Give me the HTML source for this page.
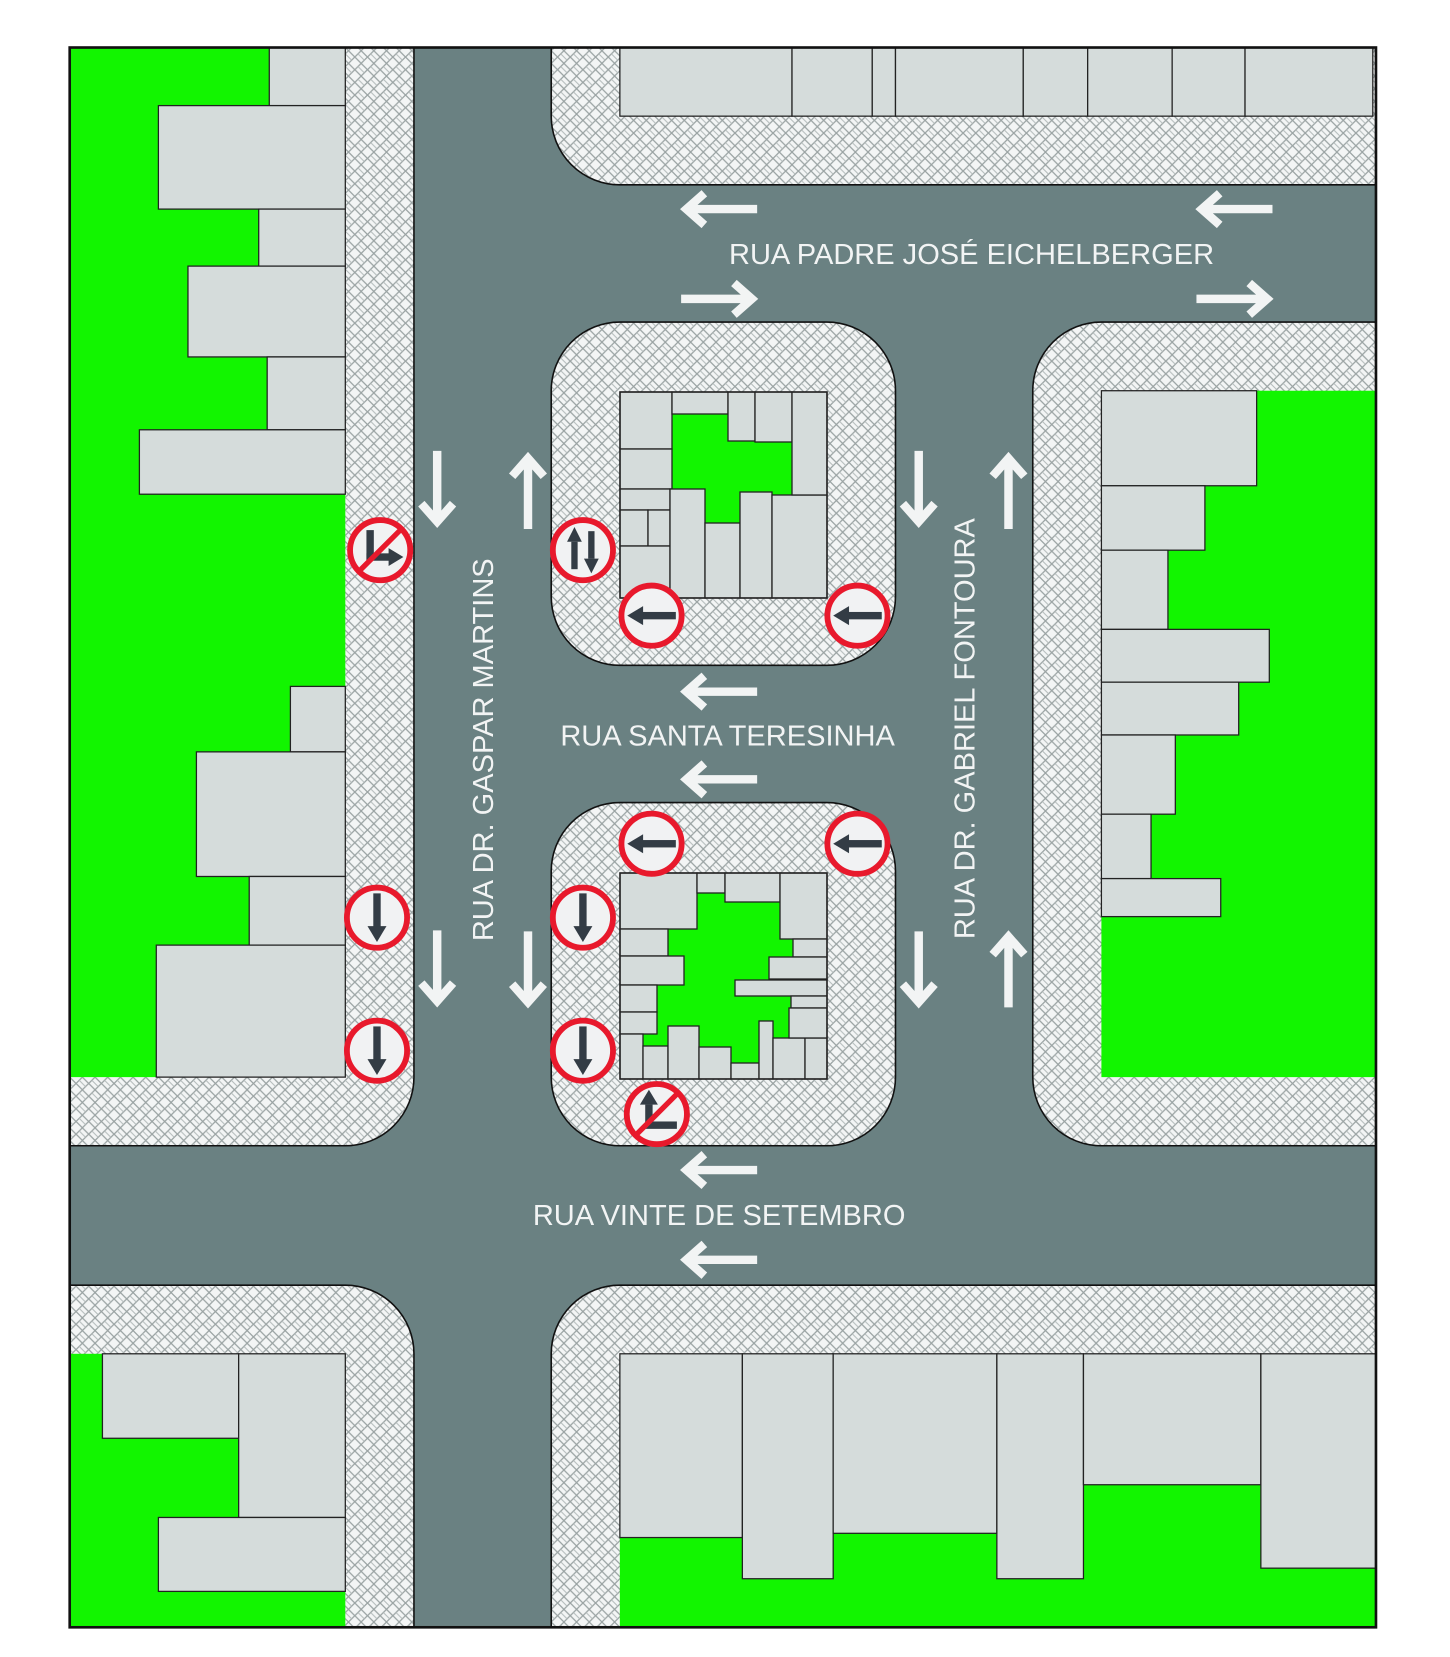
<!DOCTYPE html>
<html><head><meta charset="utf-8"><style>
html,body{margin:0;padding:0;background:#fff;}
svg{display:block;}
text{font-family:"Liberation Sans",sans-serif;fill:#f2f4f4;}
</style></head><body>
<svg width="1450" height="1657" viewBox="0 0 1450 1657" xmlns="http://www.w3.org/2000/svg">
<defs>
<pattern id="hb" width="12" height="12" patternUnits="userSpaceOnUse">
<rect width="12" height="12" fill="#f3f5f5"/>
<path d="M0,6 L6,0 M6,12 L12,6 M6,0 L12,6 M0,6 L6,12" stroke="#9aa3a3" stroke-width="1.2" fill="none"/>
<path d="M3,3 L9,9" stroke="#b4bbbb" stroke-width="1" fill="none"/>
</pattern>
<g id="al"><path d="M36,0 H-30 M-14,-15 L-31,0 L-14,15" stroke="#f2f4f4" stroke-width="8" fill="none"/></g>
<g id="sgnL"><circle r="28.5" fill="#f1f2f3" stroke="#e8192c" stroke-width="5.5"/><rect x="-9" y="-3.5" width="32" height="7" fill="#333c45"/><path d="M-23,0 L-8,-9 L-8,9Z" fill="#333c45"/></g>
<g id="sgnD"><circle r="28.5" fill="#f1f2f3" stroke="#e8192c" stroke-width="5.5"/><rect x="-3.5" y="-23" width="7" height="32" fill="#333c45"/><path d="M0,23 L-9,8 L9,8Z" fill="#333c45"/></g>
</defs>
<rect width="1450" height="1657" fill="#fff"/>
<g transform="scale(1.056)">
<!-- base road -->
<rect x="66" y="45" width="1237" height="1496" fill="#6a8182"/>
<!-- sidewalks -->
<g fill="url(#hb)" stroke="#111" stroke-width="1.5">
<path d="M66,45 H392 V1020 A65,65 0 0 1 327,1085 H66 Z"/>
<path d="M522,45 H1303 V175 H587 A65,65 0 0 1 522,110 Z"/>
<rect x="522" y="305" width="326" height="325" rx="65"/>
<rect x="522" y="760" width="326" height="325" rx="65"/>
<path d="M1043,305 H1303 V1085 H1043 A65,65 0 0 1 978,1020 V370 A65,65 0 0 1 1043,305 Z"/>
<path d="M66,1217 H327 A65,65 0 0 1 392,1282 V1541 H66 Z"/>
<path d="M587,1217 H1303 V1541 H522 V1282 A65,65 0 0 1 587,1217 Z"/>
</g>
<!-- green inner areas -->
<g fill="#12f500">
<rect x="66" y="45" width="261" height="975"/>
<rect x="1043" y="370" width="260" height="650"/>
<rect x="66" y="1282" width="261" height="259"/>
<rect x="587" y="1282" width="716" height="259"/>
</g>
<!-- buildings -->
<g fill="#d5dcdb" stroke="#222" stroke-width="1.2">
<rect x="255" y="45" width="72" height="55"/>
<rect x="150" y="100" width="177" height="98"/>
<rect x="245" y="198" width="82" height="54"/>
<rect x="178" y="252" width="149" height="86"/>
<rect x="253" y="338" width="74" height="69"/>
<rect x="132" y="407" width="195" height="61"/>
<rect x="275" y="650" width="52" height="62"/>
<rect x="186" y="712" width="141" height="118"/>
<rect x="236" y="830" width="91" height="65"/>
<rect x="148" y="895" width="179" height="125"/>
<rect x="587" y="45" width="163" height="65"/>
<rect x="750" y="45" width="76" height="65"/>
<rect x="826" y="45" width="22" height="65"/>
<rect x="848" y="45" width="121" height="65"/>
<rect x="969" y="45" width="61" height="65"/>
<rect x="1030" y="45" width="80" height="65"/>
<rect x="1110" y="45" width="69" height="65"/>
<rect x="1179" y="45" width="121" height="65"/>
<rect x="1043" y="370" width="147" height="90"/>
<rect x="1043" y="460" width="98" height="61"/>
<rect x="1043" y="521" width="63" height="75"/>
<rect x="1043" y="596" width="159" height="50"/>
<rect x="1043" y="646" width="130" height="50"/>
<rect x="1043" y="696" width="70" height="75"/>
<rect x="1043" y="771" width="47" height="61"/>
<rect x="1043" y="832" width="113" height="36"/>
<rect x="97" y="1282" width="129" height="80"/>
<rect x="226" y="1282" width="101" height="155"/>
<rect x="150" y="1437" width="177" height="70"/>
<rect x="587" y="1282" width="116" height="174"/>
<rect x="703" y="1282" width="86" height="213"/>
<rect x="789" y="1282" width="155" height="170"/>
<rect x="944" y="1282" width="82" height="213"/>
<rect x="1026" y="1282" width="168" height="124"/>
<rect x="1194" y="1282" width="109" height="203"/>
</g>
<!-- frame -->
<rect x="66" y="45" width="1237" height="1496" fill="none" stroke="#111" stroke-width="2.5"/>
</g>
<!-- island buildings (actual coords) -->
<rect x="620" y="392" width="207" height="206" fill="#12f500"/>
<g fill="#d5dcdb" stroke="#222" stroke-width="1.3">
<rect x="620" y="392" width="52" height="57"/>
<rect x="620" y="449" width="52" height="40"/>
<rect x="620" y="489" width="50" height="21"/>
<rect x="620" y="510" width="28" height="36"/>
<rect x="648" y="510" width="22" height="36"/>
<rect x="620" y="546" width="50" height="52"/>
<rect x="670" y="489" width="35" height="109"/>
<rect x="705" y="523" width="35" height="75"/>
<rect x="740" y="492" width="32" height="106"/>
<rect x="772" y="495" width="55" height="103"/>
<rect x="672" y="392" width="56" height="22"/>
<rect x="728" y="392" width="27" height="49"/>
<rect x="755" y="392" width="37" height="50"/>
<rect x="792" y="392" width="35" height="103"/>
</g>
<rect x="620" y="392" width="207" height="206" fill="none" stroke="#222" stroke-width="1.5"/>
<rect x="620" y="873" width="207" height="206" fill="#12f500"/>
<g fill="#d5dcdb" stroke="#222" stroke-width="1.3">
<rect x="620" y="873" width="77" height="56"/>
<rect x="697" y="873" width="28" height="20"/>
<rect x="725" y="873" width="55" height="29"/>
<rect x="780" y="873" width="47" height="66"/>
<rect x="620" y="929" width="48" height="27"/>
<rect x="620" y="956" width="64" height="29"/>
<rect x="620" y="985" width="37" height="27"/>
<rect x="620" y="1012" width="37" height="22"/>
<rect x="620" y="1034" width="23" height="45"/>
<rect x="643" y="1046" width="25" height="33"/>
<rect x="668" y="1026" width="31" height="53"/>
<rect x="699" y="1047" width="32" height="32"/>
<rect x="731" y="1063" width="28" height="16"/>
<rect x="759" y="1021" width="14" height="58"/>
<rect x="773" y="1038" width="32" height="41"/>
<rect x="805" y="1038" width="22" height="41"/>
<rect x="793" y="939" width="34" height="18"/>
<rect x="769" y="957" width="58" height="22"/>
<rect x="735" y="980" width="92" height="16"/>
<rect x="791" y="996" width="36" height="12"/>
<rect x="789" y="1008" width="38" height="30"/>
</g>
<rect x="620" y="873" width="207" height="206" fill="none" stroke="#222" stroke-width="1.5"/>
<g transform="scale(1.056)">
<!-- road arrows -->
<use href="#al" transform="translate(681,198)"/>
<use href="#al" transform="translate(1169,198)"/>
<use href="#al" transform="translate(681,283) rotate(180)"/>
<use href="#al" transform="translate(1169,283) rotate(180)"/>
<use href="#al" transform="translate(681,655)"/>
<use href="#al" transform="translate(681,738)"/>
<use href="#al" transform="translate(681,1108)"/>
<use href="#al" transform="translate(681,1193)"/>
<use href="#al" transform="translate(414,463) rotate(-90)"/>
<use href="#al" transform="translate(414,917) rotate(-90)"/>
<use href="#al" transform="translate(500,465) rotate(90)"/>
<use href="#al" transform="translate(500,918) rotate(-90)"/>
<use href="#al" transform="translate(870,463) rotate(-90)"/>
<use href="#al" transform="translate(870,918) rotate(-90)"/>
<use href="#al" transform="translate(955,465) rotate(90)"/>
<use href="#al" transform="translate(955,918) rotate(90)"/>
<!-- labels -->
<text x="920" y="250" font-size="27.5" text-anchor="middle">RUA PADRE JOSÉ EICHELBERGER</text>
<text x="689" y="706" font-size="27.5" text-anchor="middle">RUA SANTA TERESINHA</text>
<text x="681" y="1160" font-size="27.5" text-anchor="middle">RUA VINTE DE SETEMBRO</text>
<text transform="translate(467,710) rotate(-90)" font-size="27.5" text-anchor="middle">RUA DR. GASPAR MARTINS</text>
<text transform="translate(923,690) rotate(-90)" font-size="27.5" text-anchor="middle">RUA DR. GABRIEL FONTOURA</text>
<!-- signs -->
<use href="#sgnL" transform="translate(617,583)"/>
<use href="#sgnL" transform="translate(812,583)"/>
<use href="#sgnL" transform="translate(617,799)"/>
<use href="#sgnL" transform="translate(812,799)"/>
<use href="#sgnD" transform="translate(357,869)"/>
<use href="#sgnD" transform="translate(357,995)"/>
<use href="#sgnD" transform="translate(552,869)"/>
<use href="#sgnD" transform="translate(552,995)"/>
<g transform="translate(552,521)">
<circle r="28.5" fill="#f1f2f3" stroke="#e8192c" stroke-width="5.5"/>
<rect x="-11" y="-8" width="6" height="26" fill="#333c45"/><path d="M-8,-22 L-15,-8 L-1,-8Z" fill="#333c45"/>
<rect x="5" y="-18" width="6" height="26" fill="#333c45"/><path d="M8,22 L1,8 L15,8Z" fill="#333c45"/>
</g>
<g transform="translate(360,521)">
<circle r="28.5" fill="#f1f2f3" stroke="#e8192c" stroke-width="5.5"/>
<rect x="-13" y="-19" width="7" height="28" fill="#333c45"/>
<rect x="-13" y="3" width="22" height="7" fill="#333c45"/><path d="M22,6.5 L8,-2 L8,15Z" fill="#333c45"/>
<line x1="20" y1="-20" x2="-20" y2="20" stroke="#e8192c" stroke-width="5"/>
</g>
<g transform="translate(622,1055)">
<circle r="28.5" fill="#f1f2f3" stroke="#e8192c" stroke-width="5.5"/>
<rect x="-11" y="-9" width="7" height="22" fill="#333c45"/><path d="M-7.5,-23 L-16,-9 L1,-9Z" fill="#333c45"/>
<rect x="-11" y="7" width="30" height="7" fill="#333c45"/>
<line x1="20" y1="-20" x2="-20" y2="20" stroke="#e8192c" stroke-width="5"/>
</g>
</g>
</svg>
</body></html>
